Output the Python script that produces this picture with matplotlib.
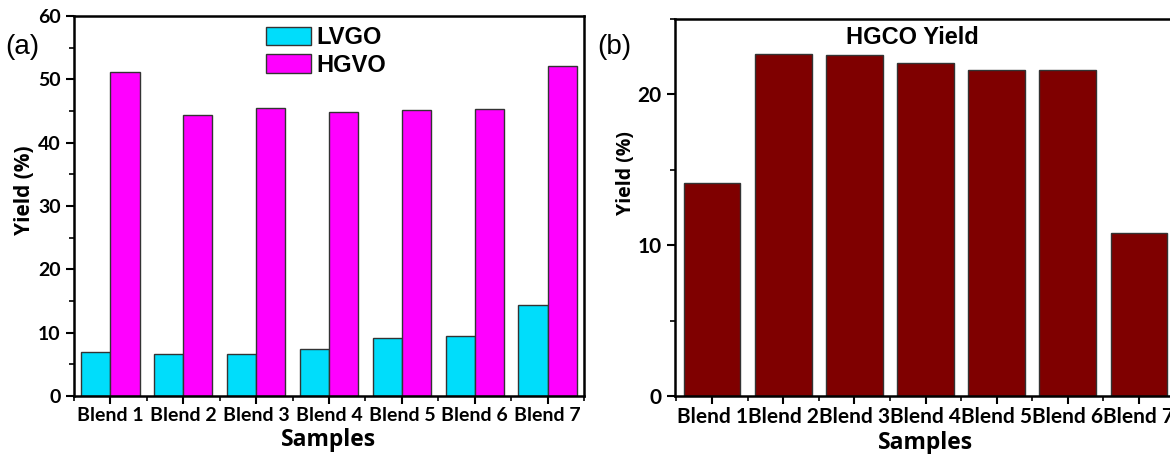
import numpy as np
import matplotlib
matplotlib.use("Agg")
import matplotlib.pyplot as plt
from matplotlib.ticker import MultipleLocator, FixedLocator

# data
samples = ["Blend 1", "Blend 2", "Blend 3", "Blend 4", "Blend 5", "Blend 6", "Blend 7"]
lvgo = [7.0, 6.6, 6.7, 7.5, 9.1, 9.5, 14.4]
hgvo = [51.2, 44.4, 45.4, 44.8, 45.2, 45.3, 52.1]
hgco = [14.1, 22.65, 22.6, 22.1, 21.65, 21.6, 10.8]

tick_font = "Lato"
W, H = 1170, 454

fig = plt.figure(figsize=(W / 100, H / 100), dpi=100)

def style_axes(ax, ymajor, yminor, label_size):
    for s in ax.spines.values():
        s.set_linewidth(1.8)
    ax.yaxis.set_major_locator(MultipleLocator(ymajor))
    ax.yaxis.set_minor_locator(MultipleLocator(yminor))
    ax.tick_params(axis="both", which="major", direction="out", length=6, width=1.5)
    ax.tick_params(axis="both", which="minor", direction="out", length=3.5, width=1.2)
    ax.tick_params(axis="x", pad=2)
    for lab in ax.get_xticklabels() + ax.get_yticklabels():
        lab.set_fontfamily(tick_font)
        lab.set_fontweight("bold")
        lab.set_fontsize(label_size)

x = np.arange(1, len(samples) + 1)

# ---- panel (a) ----
ax1 = fig.add_axes([74 / W, 58 / H, 510 / W, 380 / H])
w = 0.4
ax1.bar(x - w / 2, lvgo, w, color="#00DDFB", edgecolor="#333333", linewidth=1.0, label="LVGO")
ax1.bar(x + w / 2, hgvo, w, color="#FF00FF", edgecolor="#333333", linewidth=1.0, label="HGVO")
ax1.set_xlim(0.5, 7.5)
ax1.set_ylim(0, 60)
ax1.set_xticks(x)
ax1.set_xticklabels(samples)
ax1.xaxis.set_minor_locator(FixedLocator(np.arange(0.5, 8, 1)))
style_axes(ax1, 10, 5, 14)
ax1.set_xlabel("Samples", fontfamily="Open Sans", fontweight="bold", fontsize=16.5, labelpad=3)
ax1.set_ylabel("Yield (%)", fontfamily="Open Sans", fontweight="bold", fontsize=15)
ax1.yaxis.set_label_coords(35 / W, 1 - 190 / H, transform=fig.transFigure)
ax1.legend(loc="upper left", bbox_to_anchor=(266 / W, 1 - 26 / H), bbox_transform=fig.transFigure,
           frameon=False, borderaxespad=0, borderpad=0,
           prop={"family": "Liberation Sans", "weight": "bold", "size": 17},
           handlelength=1.9, handleheight=0.8, handletextpad=0.25, labelspacing=0.2)
fig.text(5 / W, 1 - 47 / H, "(a)", fontfamily="Liberation Sans", fontsize=20,
         va="center", ha="left")

# ---- panel (b) ----
ax2 = fig.add_axes([675 / W, 58 / H, 501 / W, 377 / H])
ax2.bar(x, hgco, 0.8, color="#7F0000", edgecolor="#333333", linewidth=1.0)
ax2.set_xlim(0.48, 7.52)
ax2.set_ylim(0, 25)
ax2.set_xticks(x)
ax2.set_xticklabels(samples)
ax2.xaxis.set_minor_locator(FixedLocator(np.arange(0.5, 8, 1)))
style_axes(ax2, 10, 5, 15)
ax2.set_xlabel("Samples", fontfamily="Open Sans", fontweight="bold", fontsize=16.5, labelpad=3)
ax2.set_ylabel("Yield (%)", fontfamily="Open Sans", fontweight="bold", fontsize=14)
ax2.yaxis.set_label_coords(636 / W, 1 - 173 / H, transform=fig.transFigure)
ax2.text(912 / W, 1 - 38 / H, "HGCO Yield", transform=fig.transFigure, ha="center", va="center",
         fontfamily="Liberation Sans", fontweight="bold", fontsize=17)
fig.text(597 / W, 1 - 47 / H, "(b)", fontfamily="Liberation Sans", fontsize=20,
         va="center", ha="left")

fig.savefig("out.png", dpi=100)
